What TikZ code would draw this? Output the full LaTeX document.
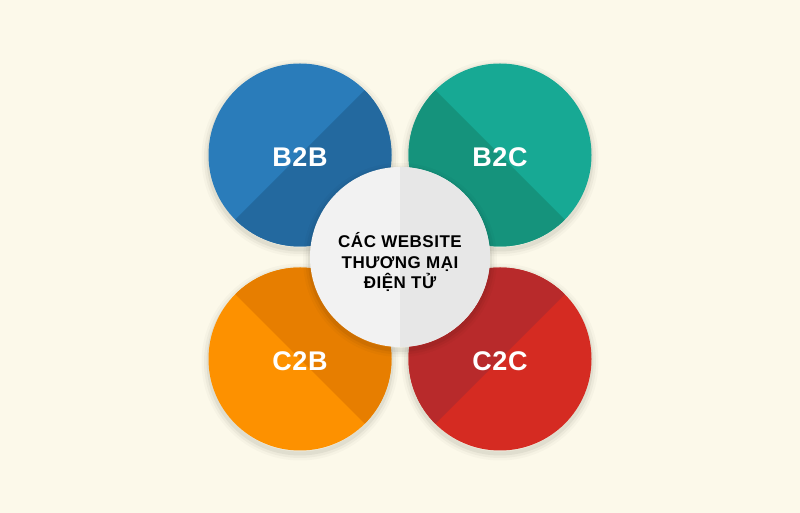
\documentclass[tikz,border=0pt]{standalone}
\usepackage{fontspec}
\setmainfont{Liberation Sans}

% Colours of the discs
\definecolor{paper}{HTML}{FCF9EA}
\definecolor{bluelight}{HTML}{2A7CBA}
\definecolor{bluedark}{HTML}{23699F}
\definecolor{teallight}{HTML}{17A994}
\definecolor{tealdark}{HTML}{15937C}
\definecolor{orangelight}{HTML}{FD9100}
\definecolor{orangedark}{HTML}{E77E00}
\definecolor{redlight}{HTML}{D52B22}
\definecolor{reddark}{HTML}{B82A2B}
\definecolor{greylight}{HTML}{F2F2F2}
\definecolor{greydark}{HTML}{E7E7E7}

\tikzset{
    softshadow/.style={
        preaction={draw=black, draw opacity=0.025, line width=14pt, transform canvas={yshift=-3pt}},
        preaction={draw=black, draw opacity=0.035, line width=9pt, transform canvas={yshift=-3pt}},
        preaction={draw=black, draw opacity=0.05, line width=4pt, transform canvas={yshift=-3pt}}},
    halfdisc/.style n args={3}{circle, minimum size=183pt, inner sep=0pt, softshadow, fill=#1,
        path picture={\fill[#2] (path picture bounding box.center) -- ++(#3:150)
            arc[start angle=#3, delta angle=180, radius=150] -- cycle;}},
    tag/.style={text=white, font=\bfseries\fontsize{27}{27}\selectfont\addfontfeature{LetterSpace=2}}
}

\begin{document}
\begin{tikzpicture}[x=1pt,y=1pt]

    % Paper background
    \fill[paper] (0,0) rectangle (800,513);
    \useasboundingbox (0,0) rectangle (800,513);

    % The four outer discs, darker half towards the middle
    \foreach \name/\x/\y/\light/\dark/\ang/\txt in {
        b2b/300/358/bluelight/bluedark/-135/B2B,
        b2c/500/358/teallight/tealdark/135/B2C,
        c2b/300/154/orangelight/orangedark/-45/C2B,
        c2c/500/154/redlight/reddark/45/C2C} {
        \node[halfdisc={\light}{\dark}{\ang}] (\name) at (\x,\y) {};
        \node[tag] (\name txt) at ([yshift=-2pt]\name.center) {\txt};
    }

    % Centre disc on top
    \node[halfdisc={greylight}{greydark}{-90}, minimum size=180pt] (hub) at (400,256) {};
    \node[align=center, font=\bfseries\fontsize{17}{20.5}\selectfont\addfontfeature{LetterSpace=3}]
        (hubtxt) at ([yshift=-5pt]hub.center) {CÁC WEBSITE\\THƯƠNG MẠI\\ĐIỆN TỬ};

\end{tikzpicture}
\end{document}
